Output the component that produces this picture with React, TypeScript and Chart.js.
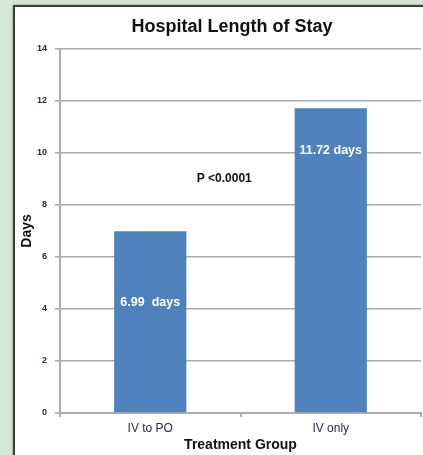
import React, { useEffect, useRef } from "react";
import { Chart, registerables } from "chart.js";

Chart.register(...registerables);

// Treatment groups and mean hospital length of stay (days)
const groups = ["IV to PO", "IV only"];
const meanStay = [6.99, 11.72];
const stayUnitSep = ["  ", " "];
const yTicks = [0, 2, 4, 6, 8, 10, 12, 14];

const chartTitle = "Hospital Length of Stay";
const xTitle = "Treatment Group";
const yTitle = "Days";
const pValueNote = "P <0.0001";

const FONT = "'Liberation Sans', Arial, Helvetica, sans-serif";
const BAR_BLUE = "#4f81bd";
const GRID_GREY = "#acacac";
const TICK_TEXT = "#252d4a";

// where the value labels and the p-value note sit, in axis units
const valueLabelY = [4.25, 10.1];
const pNoteAt = { x: 0.41, y: 9.0 };

const textPlugin = {
  id: "stayText",
  afterDraw(chart: any) {
    const { ctx, scales } = chart;
    const xs = scales.x;
    const ys = scales.y;
    const area = chart.chartArea;
    ctx.save();
    ctx.textAlign = "center";
    ctx.textBaseline = "middle";

    // chart title
    ctx.fillStyle = "#111";
    ctx.font = `bold 18px ${FONT}`;
    ctx.fillText(chartTitle, 232, 27);

    // x axis title
    ctx.font = `bold 14px ${FONT}`;
    ctx.fillText(xTitle, (area.left + area.right) / 2, 445);

    // y axis title
    ctx.save();
    ctx.translate(27, (area.top + area.bottom) / 2);
    ctx.rotate(-Math.PI / 2);
    ctx.fillText(yTitle, 0, 0);
    ctx.restore();

    // p-value note
    ctx.font = `bold 12px ${FONT}`;
    ctx.fillStyle = "#111";
    ctx.fillText(pValueNote, xs.getPixelForValue(pNoteAt.x), ys.getPixelForValue(pNoteAt.y));

    // value labels inside the bars
    const meta = chart.getDatasetMeta(0);
    ctx.font = `bold 12.5px ${FONT}`;
    ctx.fillStyle = "#ffffff";
    meta.data.forEach((bar: any, i: number) => {
      const label = `${meanStay[i].toFixed(2)}${stayUnitSep[i]}days`;
      ctx.fillText(label, bar.x, ys.getPixelForValue(valueLabelY[i]));
    });
    ctx.restore();
  },
};

export default function App() {
  const canvasRef = useRef<HTMLCanvasElement | null>(null);

  useEffect(() => {
    const canvas = canvasRef.current;
    if (!canvas) return;
    const chart = new Chart(canvas, {
      type: "bar",
      data: {
        labels: groups,
        datasets: [
          {
            data: meanStay,
            backgroundColor: BAR_BLUE,
            borderWidth: 0,
            barPercentage: 0.4,
            categoryPercentage: 1.0,
          },
        ],
      },
      options: {
        responsive: false,
        animation: false,
        events: [],
        layout: { padding: { left: 0, top: 49, right: 2, bottom: 0 } },
        plugins: {
          legend: { display: false },
          title: { display: false },
          tooltip: { enabled: false },
        },
        scales: {
          x: {
            grid: {
              display: true,
              drawOnChartArea: false,
              drawTicks: true,
              tickLength: 4,
              color: GRID_GREY,
              lineWidth: 2,
            },
            border: { display: true, color: GRID_GREY, width: 2 },
            ticks: {
              color: TICK_TEXT,
              font: { family: FONT, size: 12 },
              padding: 4,
            },
            afterFit(scale: any) {
              scale.height = 42;
            },
          },
          y: {
            min: 0,
            max: 14,
            afterBuildTicks(scale: any) {
              scale.ticks = yTicks.map((v) => ({ value: v }));
            },
            grid: {
              color: GRID_GREY,
              lineWidth: 1.6,
              drawTicks: true,
              tickLength: 5,
            },
            border: { display: true, color: GRID_GREY, width: 2 },
            ticks: {
              color: TICK_TEXT,
              font: { family: FONT, size: 9, weight: "bold" },
              padding: 8,
            },
            afterFit(scale: any) {
              scale.width = 60;
            },
          },
        },
      },
      plugins: [textPlugin],
    });
    return () => chart.destroy();
  }, []);

  return (
    <div
      style={{
        position: "fixed",
        left: 0,
        top: 0,
        width: 423,
        height: 455,
        overflow: "hidden",
        background: "#d4e6d6",
      }}
    >
      <div
        style={{
          position: "absolute",
          left: 13,
          top: 5,
          width: 430,
          height: 470,
          background: "#ffffff",
          border: "2px solid #3e3e3e",
          boxShadow: "0 0 2px rgba(0,0,0,0.45)",
        }}
      />
      <canvas
        ref={canvasRef}
        width={423}
        height={455}
        style={{ position: "absolute", left: 0, top: 0, width: 423, height: 455 }}
      />
    </div>
  );
}
